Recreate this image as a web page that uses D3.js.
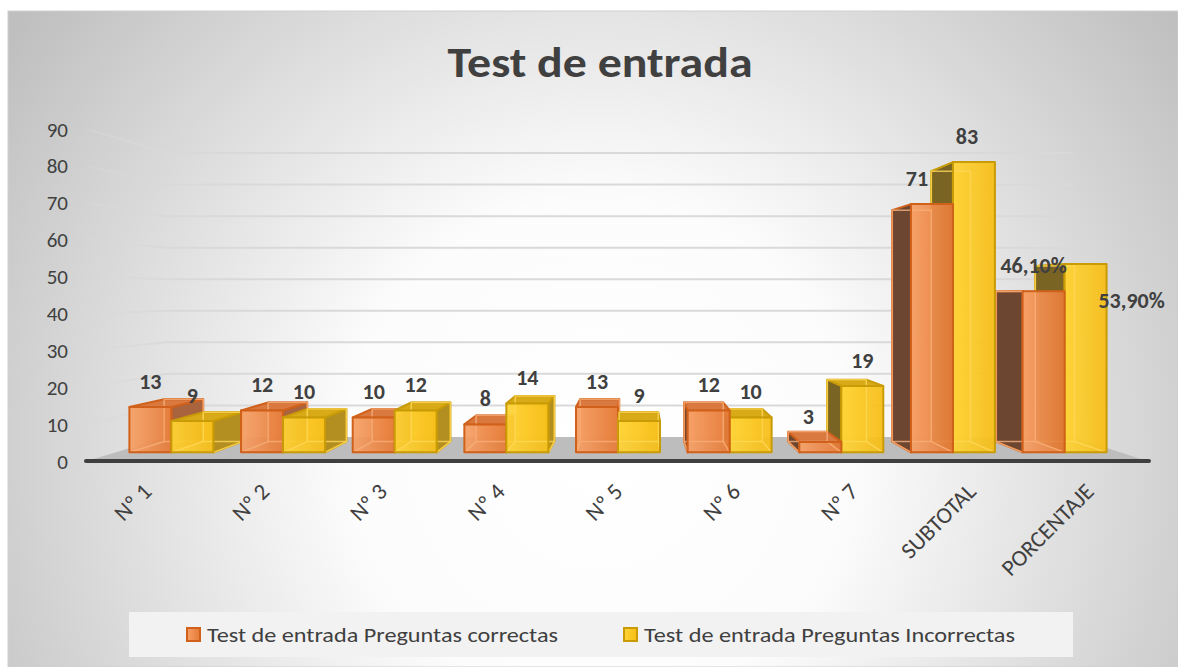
<!DOCTYPE html>
<html>
<head>
<meta charset="utf-8">
<script src="https://cdn.jsdelivr.net/npm/d3@7"></script>
<style>
  html, body { margin: 0; padding: 0; background: #ffffff; }
  svg { display: block; }
  text { font-family: Carlito, Lato, "Open Sans", sans-serif; }
</style>
</head>
<body>
<svg id="chart" width="1178" height="667"></svg>
<script>
// ---------- data ----------
const categories = ["Nº 1", "Nº 2", "Nº 3", "Nº 4", "Nº 5", "Nº 6", "Nº 7", "SUBTOTAL", "PORCENTAJE"];
const correctas = [13, 12, 10, 8, 13, 12, 3, 71, 46.1];
const incorrectas = [9, 10, 12, 14, 9, 10, 19, 83, 53.9];
const seriesNames = ["Test de entrada Preguntas correctas", "Test de entrada Preguntas Incorrectas"];
const yTicks = [0, 10, 20, 30, 40, 50, 60, 70, 80, 90];
const titleText = "Test de entrada";

// ---------- layout ----------
const W = 1178, H = 667;
const VX = 636, VY = 295;          // vanishing point
const S_FRONT = 0.948, S_BACK = 0.883, S_WALL = 0.855;
const P = (X, Y, s) => [VX + s * (X - VX), VY + s * (Y - VY)];

const svg = d3.select("#chart");
const defs = svg.append("defs");

// background
const bg = defs.append("radialGradient").attr("id", "bgGrad")
  .attr("gradientUnits", "userSpaceOnUse").attr("cx", 600).attr("cy", 450).attr("r", 720);
bg.append("stop").attr("offset", 0).attr("stop-color", "#ffffff");
bg.append("stop").attr("offset", 0.35).attr("stop-color", "#fcfcfc");
bg.append("stop").attr("offset", 1).attr("stop-color", "#bfbfbf");
svg.append("rect").attr("x", 8).attr("y", 11).attr("width", W - 8).attr("height", H - 11)
  .attr("fill", "url(#bgGrad)").attr("stroke", "#cfcfcf").attr("stroke-width", 1);

// scales (in the front "axis" plane)
const x = d3.scaleBand().domain(categories).range([87, 1147]).paddingInner(0.248).paddingOuter(0.124);
const xs = d3.scaleBand().domain([0, 1]).range([0, x.bandwidth()]);
const y = d3.scaleLinear().domain([0, 90]).range([461, 129]);

// title
svg.append("text").attr("x", 600).attr("y", 77).attr("text-anchor", "middle")
  .attr("font-size", 43).attr("font-weight", "bold").attr("fill", "#404040")
  .attr("textLength", 305).attr("lengthAdjust", "spacingAndGlyphs")
  .text(titleText);

// wall gridlines
const lw = defs.append("linearGradient").attr("id", "leftWall")
  .attr("gradientUnits", "userSpaceOnUse").attr("x1", 87).attr("x2", 168).attr("y1", 0).attr("y2", 0);
lw.append("stop").attr("offset", 0).attr("stop-color", "#d9d9d9").attr("stop-opacity", 0.3);
lw.append("stop").attr("offset", 1).attr("stop-color", "#d9d9d9").attr("stop-opacity", 1);

const grid = svg.append("g");
yTicks.filter(t => t > 0).forEach(t => {
  const a = P(87, y(t), 1), b = P(87, y(t), S_WALL), c = P(1147, y(t), S_WALL);
  grid.append("line").attr("x1", a[0]).attr("y1", a[1]).attr("x2", b[0]).attr("y2", b[1])
    .attr("stroke", "url(#leftWall)").attr("stroke-width", 2);
  grid.append("line").attr("x1", b[0]).attr("y1", b[1]).attr("x2", c[0]).attr("y2", c[1])
    .attr("stroke", "#d9d9d9").attr("stroke-width", 2);
});

// floor
const fl = [P(87, y(0), 1), P(1147, y(0), 1), P(1147, y(0), S_WALL), P(87, y(0), S_WALL)];
svg.append("polygon").attr("points", fl.map(p => p.join(",")).join(" ")).attr("fill", "#bdbdbd");
svg.append("line").attr("x1", 86).attr("x2", 1149).attr("y1", y(0)).attr("y2", y(0))
  .attr("stroke", "#3f3f3f").attr("stroke-width", 4).attr("stroke-linecap", "round");

// y tick labels
svg.append("g").selectAll("text").data(yTicks).join("text")
  .attr("x", 68).attr("y", d => y(d) + 7.5).attr("text-anchor", "end")
  .attr("font-size", 21).attr("fill", "#404040").text(d => d);

// bar colours
const pal = [
  { f0: "#f7a066", f1: "#e57a36", stroke: "#d0601a", top: "#d9783f", right: "#a9643d", left: "#6c4631", inner: "#f8b07c" },
  { f0: "#ffd436", f1: "#f6bd14", stroke: "#c99b06", top: "#d8aa18", right: "#b38f22", left: "#7a6424", inner: "#ffd85a" }
];
pal.forEach((c, i) => {
  const g = defs.append("linearGradient").attr("id", "front" + i).attr("x1", 0).attr("x2", 1).attr("y1", 0).attr("y2", 0);
  g.append("stop").attr("offset", 0).attr("stop-color", c.f0);
  g.append("stop").attr("offset", 1).attr("stop-color", c.f1);
});

// bars
const bars = [];
categories.forEach((cat, i) => {
  [correctas[i], incorrectas[i]].forEach((v, j) => {
    const X0 = x(cat) + xs(j), X1 = X0 + xs.bandwidth();
    bars.push({ cat, i, j, v, X0, X1, Yt: y(v), Yb: y(0) });
  });
});
bars.sort((a, b) => Math.abs((b.X0 + b.X1) / 2 - VX) - Math.abs((a.X0 + a.X1) / 2 - VX));

const pts = arr => arr.map(p => p.join(",")).join(" ");
const gBars = svg.append("g");
bars.forEach(b => {
  const c = pal[b.j];
  const g = gBars.append("g");
  const fTL = P(b.X0, b.Yt, S_FRONT), fTR = P(b.X1, b.Yt, S_FRONT), fBR = P(b.X1, b.Yb, S_FRONT), fBL = P(b.X0, b.Yb, S_FRONT);
  const bTL = P(b.X0, b.Yt, S_BACK), bTR = P(b.X1, b.Yt, S_BACK), bBR = P(b.X1, b.Yb, S_BACK), bBL = P(b.X0, b.Yb, S_BACK);
  // back face
  g.append("polygon").attr("points", pts([bTL, bTR, bBR, bBL])).attr("fill", c.f1).attr("fill-opacity", 0.6)
    .attr("stroke", c.stroke).attr("stroke-width", 1.5).attr("stroke-linejoin", "round");
  // side faces
  if (b.X1 < VX) {
    g.append("polygon").attr("points", pts([fTR, bTR, bBR, fBR])).attr("fill", c.right)
      .attr("stroke", c.stroke).attr("stroke-width", 2).attr("stroke-linejoin", "round");
  } else if (b.X0 > VX) {
    g.append("polygon").attr("points", pts([fTL, bTL, bBL, fBL])).attr("fill", c.left)
      .attr("stroke", c.stroke).attr("stroke-width", 2).attr("stroke-linejoin", "round");
  }
  // top face
  if (fTL[1] > VY) {
    g.append("polygon").attr("points", pts([fTL, fTR, bTR, bTL])).attr("fill", c.top)
      .attr("stroke", c.stroke).attr("stroke-width", 2).attr("stroke-linejoin", "round");
  }
  // front face
  g.append("polygon").attr("points", pts([fTL, fTR, fBR, fBL])).attr("fill", `url(#front${b.j})`)
    .attr("fill-opacity", 0.93);
  // inner (back) edges seen through
  const inner = g.append("g").attr("stroke", c.inner).attr("stroke-width", 1.5).attr("stroke-opacity", 0.8).attr("fill", "none");
  inner.append("polygon").attr("points", pts([bTL, bTR, bBR, bBL]));
  inner.append("line").attr("x1", fBL[0]).attr("y1", fBL[1]).attr("x2", bBL[0]).attr("y2", bBL[1]);
  inner.append("line").attr("x1", fBR[0]).attr("y1", fBR[1]).attr("x2", bBR[0]).attr("y2", bBR[1]);
  g.append("polygon").attr("points", pts([fTL, fTR, fBR, fBL])).attr("fill", "none")
    .attr("stroke", c.stroke).attr("stroke-width", 2).attr("stroke-linejoin", "round");
});

// data labels
const labelNudge = { "Nº 7|0": [-12, 0], "SUBTOTAL|0": [-15, 0], "SUBTOTAL|1": [-7, 0], "PORCENTAJE|0": [-10, 0], "PORCENTAJE|1": [46, 62] };
const fmt = (cat, v) => cat === "PORCENTAJE" ? d3.format(".2f")(v).replace(".", ",") + "%" : d3.format("d")(v);
const gLab = svg.append("g");
categories.forEach((cat, i) => {
  [correctas[i], incorrectas[i]].forEach((v, j) => {
    const X0 = x(cat) + xs(j), Xc = X0 + xs.bandwidth() / 2;
    const p = P(Xc, y(v), S_FRONT);
    const n = labelNudge[cat + "|" + j] || [0, 0];
    gLab.append("text").attr("x", p[0] + n[0]).attr("y", p[1] - 26 + 8 + n[1]).attr("text-anchor", "middle")
      .attr("font-size", 22).attr("font-weight", "bold").attr("fill", "#404040").text(fmt(cat, v));
  });
});

// category labels
svg.append("g").selectAll("text").data(categories).join("text")
  .attr("transform", d => `translate(${x(d) + x.bandwidth() / 2 + 7},493) rotate(-45)`)
  .attr("text-anchor", "end").attr("font-size", 23).attr("fill", "#404040").text(d => d);

// legend
svg.append("rect").attr("x", 129).attr("y", 612).attr("width", 944).attr("height", 45).attr("fill", "#f2f2f2");
const legX = [187, 624];
seriesNames.forEach((name, j) => {
  const c = pal[j];
  svg.append("rect").attr("x", legX[j]).attr("y", 628).attr("width", 13).attr("height", 13)
    .attr("fill", `url(#front${j})`).attr("stroke", c.stroke).attr("stroke-width", 2);
  svg.append("text").attr("x", legX[j] + 20).attr("y", 642).attr("font-size", 20).attr("fill", "#404040")
    .attr("textLength", j === 0 ? 351 : 371).attr("lengthAdjust", "spacingAndGlyphs").text(name);
});
</script>
</body>
</html>
